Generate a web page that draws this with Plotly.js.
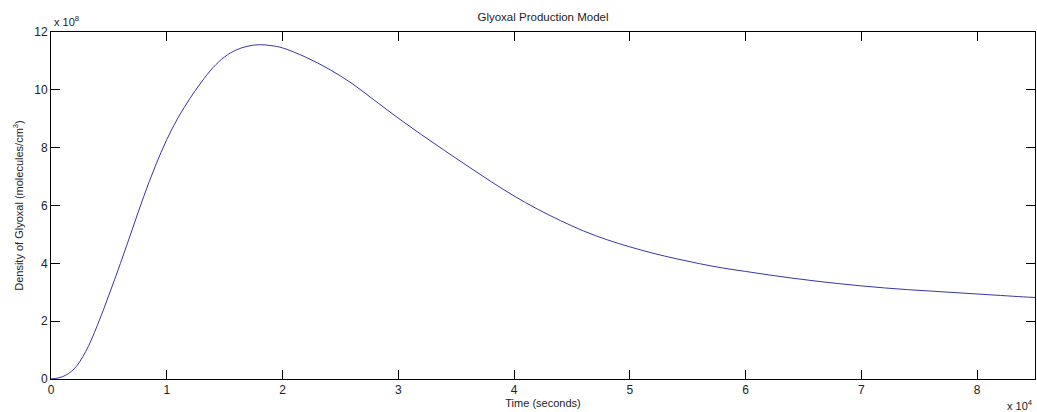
<!DOCTYPE html>
<html>
<head>
<meta charset="utf-8">
<script src="https://cdn.plot.ly/plotly-3.0.1.min.js"></script>
<style>
html,body{margin:0;padding:0;background:#fff;}
#chart{width:1037px;height:412px;}
</style>
</head>
<body>
<div id="chart"></div>
<script>
// Time in seconds
var timeSec = [0, 1000, 2000, 3000, 4000, 5000, 6000, 7000, 8000, 9000, 10000, 11000, 12000, 13000, 14000, 15000, 16000, 17000, 18000, 19000, 20000,
  22000, 24000, 26000, 28000, 30000, 32000, 34000, 36000, 38000, 40000, 42000, 44000, 46000, 48000, 50000, 52000, 54000, 56000, 58000, 60000,
  62000, 64000, 66000, 68000, 70000, 72000, 74000, 76000, 78000, 80000, 82000, 84000, 85000];
// Density of glyoxal in units of 1e8 molecules/cm^3
var density = [0, 0.08, 0.35, 0.95, 1.85, 2.9, 4.0, 5.15, 6.3, 7.35, 8.28, 9.05, 9.7, 10.27, 10.77, 11.14, 11.38, 11.51, 11.56, 11.53, 11.45,
  11.13, 10.72, 10.22, 9.62, 9.02, 8.45, 7.9, 7.36, 6.83, 6.33, 5.88, 5.48, 5.12, 4.82, 4.57, 4.35, 4.16, 3.99, 3.84, 3.72,
  3.6, 3.49, 3.39, 3.3, 3.22, 3.15, 3.09, 3.04, 2.99, 2.94, 2.89, 2.84, 2.82];
var xTickVals = [0, 10000, 20000, 30000, 40000, 50000, 60000, 70000, 80000];
var xTickText = ["0", "1", "2", "3", "4", "5", "6", "7", "8"];
var yTickVals = [0, 2, 4, 6, 8, 10, 12];
var yTickText = ["0", "2", "4", "6", "8", "10", "12"];

var fam = "Liberation Sans, Arial, sans-serif";
var tickFont = {family: fam, size: 12, color: "#222"};
var labFont = {family: fam, size: 11, color: "#222"};

var trace = {
  x: timeSec,
  y: density,
  type: "scatter",
  mode: "lines",
  line: {color: "#3636a6", width: 1, shape: "spline", smoothing: 1},
  hoverinfo: "x+y"
};

var layout = {
  width: 1037,
  height: 412,
  paper_bgcolor: "#fff",
  plot_bgcolor: "#fff",
  margin: {l: 51, r: 2, t: 32, b: 33},
  showlegend: false,
  font: labFont,
  title: {text: "Glyoxal Production Model", font: {family: fam, size: 11.5, color: "#222"}, x: 0.5, xref: "paper", y: 1, yref: "container", yanchor: "top", pad: {t: 13}},
  xaxis: {
    range: [0, 85000],
    tickvals: xTickVals,
    ticktext: xTickText,
    ticks: "inside",
    ticklen: 9,
    tickcolor: "#000",
    tickwidth: 1,
    showline: true,
    linecolor: "#000",
    linewidth: 1,
    mirror: "ticks",
    showgrid: false,
    zeroline: false,
    tickfont: tickFont,
    title: {text: "Time (seconds)", font: labFont, standoff: 1}
  },
  yaxis: {
    range: [0, 12],
    tickvals: yTickVals,
    ticktext: yTickText,
    ticks: "inside",
    ticklen: 9,
    tickcolor: "#000",
    tickwidth: 1,
    showline: true,
    linecolor: "#000",
    linewidth: 1,
    mirror: "ticks",
    showgrid: false,
    zeroline: false,
    tickfont: tickFont,
    title: {text: "Density of Glyoxal (molecules/cm<sup>3</sup>)", font: labFont, standoff: 8}
  },
  annotations: [
    {text: "x 10<sup>8</sup>", xref: "paper", yref: "paper", x: 0, y: 1, xanchor: "left", yanchor: "bottom", showarrow: false, font: {family: fam, size: 11, color: "#222"}, xshift: 1, yshift: 2},
    {text: "x 10<sup>4</sup>", xref: "paper", yref: "paper", x: 1, y: 0, xanchor: "right", yanchor: "top", showarrow: false, font: {family: fam, size: 11, color: "#222"}, yshift: -17}
  ]
};

Plotly.newPlot("chart", [trace], layout, {displayModeBar: false, staticPlot: true});
</script>
</body>
</html>
